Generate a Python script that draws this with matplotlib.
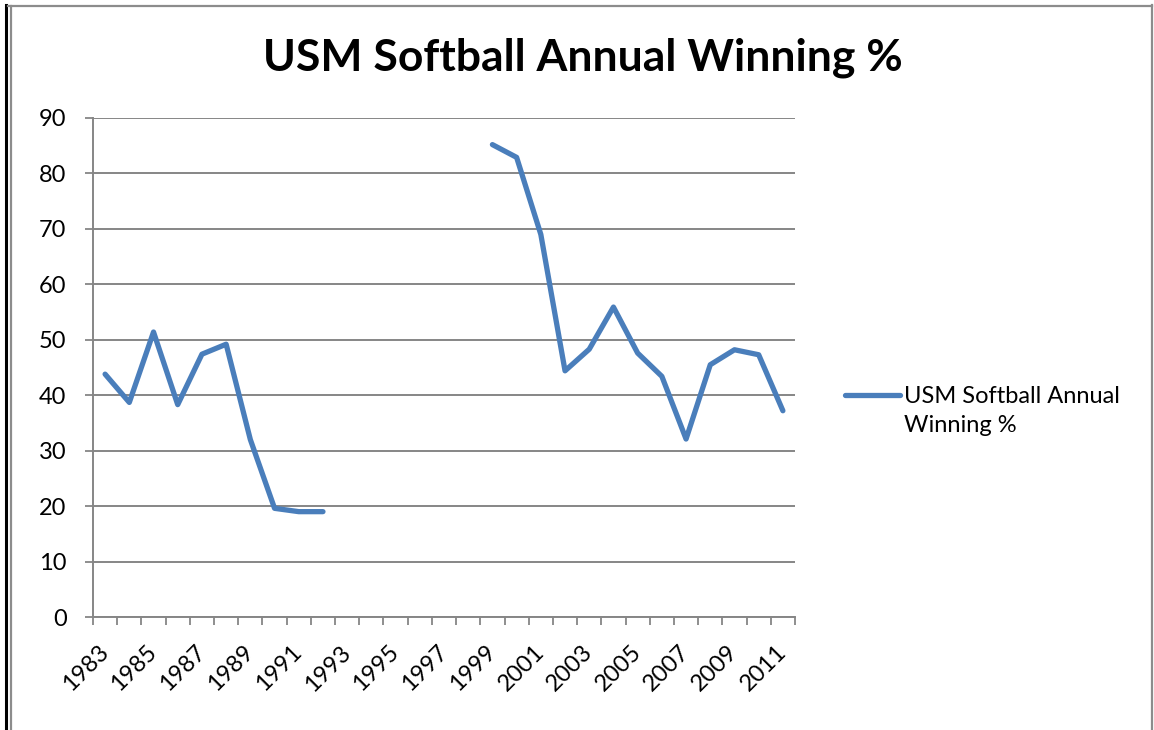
import numpy as np
import matplotlib.pyplot as plt
from matplotlib.lines import Line2D

years = list(range(1983, 2012))
win_pct = [43.8, 38.7, 51.4, 38.3, 47.4, 49.2, 32.0, 19.6, 19.0, 19.0,
           np.nan, np.nan, np.nan, np.nan, np.nan, np.nan,
           85.2, 82.9, 69.0, 44.4, 48.3, 55.9, 47.6, 43.4, 32.1, 45.5,
           48.2, 47.3, 37.2]
series_name = "USM Softball Annual Winning %"
legend_label = "USM Softball Annual\nWinning %"
y_ticks = list(range(0, 100, 10))

plt.rcParams['font.family'] = ['Lato', 'DejaVu Sans']

W, H = 1154, 730
fig = plt.figure(figsize=(W / 100, H / 100), dpi=100)
fig.patch.set_facecolor('white')


def fx(px):
    return px / W


def fy(py):
    return 1 - py / H


ax = fig.add_axes([fx(93), fy(617), fx(795) - fx(93), fy(118) - fy(617)])

grey = '#868686'
blue = '#4A7EBB'
fs = 17

x = np.arange(len(years))
ax.plot(x, win_pct, color=blue, lw=3.8, solid_capstyle='round',
        solid_joinstyle='round', label=legend_label, zorder=3)

ax.set_xlim(-0.5, len(years) - 0.5)
ax.set_ylim(0, 90)
ax.set_yticks(y_ticks)
ax.set_xticks(x[::2], [str(y) for y in years[::2]], rotation=45,
              ha='right', va='center', rotation_mode='anchor')
ax.set_xticks(np.arange(-0.5, len(years)), minor=True)
ax.tick_params(axis='x', which='major', length=0, pad=23, labelsize=fs)
ax.tick_params(axis='x', which='minor', length=6, width=1.3, color=grey)
ax.tick_params(axis='y', length=6, width=1.3, color=grey, pad=13,
               labelsize=fs)
ax.grid(axis='y', color=grey, lw=1.4)
ax.set_axisbelow(True)
for s in ['top', 'right']:
    ax.spines[s].set_visible(False)
for s in ['left', 'bottom']:
    ax.spines[s].set_color(grey)
    ax.spines[s].set_linewidth(1.4)

fig.text(fx(583), fy(58), series_name, ha='center', va='center',
         fontsize=32, fontweight='bold')

leg = fig.legend(loc='upper left', bbox_to_anchor=(fx(836), fy(377)),
                 frameon=False, fontsize=fs, handlelength=2.3,
                 handletextpad=0.2, borderaxespad=0)
leg.get_texts()[0].set_linespacing(1.45)
# put the line level with the first text line, as Excel does
hl = leg.get_lines()[0]
hl.set_ydata(np.asarray(hl.get_ydata()) + 0.72 * fs)
hl.set_linewidth(3.8)

# outer frame of the pasted chart
fig.add_artist(Line2D([fx(6), fx(6)], [fy(5), 0], color='black', lw=2.2))
fig.add_artist(Line2D([fx(8), fx(1152)], [fy(5.5), fy(5.5)], color='#8c8c8c', lw=1.6))
fig.add_artist(Line2D([fx(10.5), fx(10.5)], [fy(6), 0], color='#8c8c8c', lw=1.6))
fig.add_artist(Line2D([fx(1152), fx(1152)], [fy(5), 0], color='#8c8c8c', lw=1.6))

fig.savefig('out.png', dpi=100)
